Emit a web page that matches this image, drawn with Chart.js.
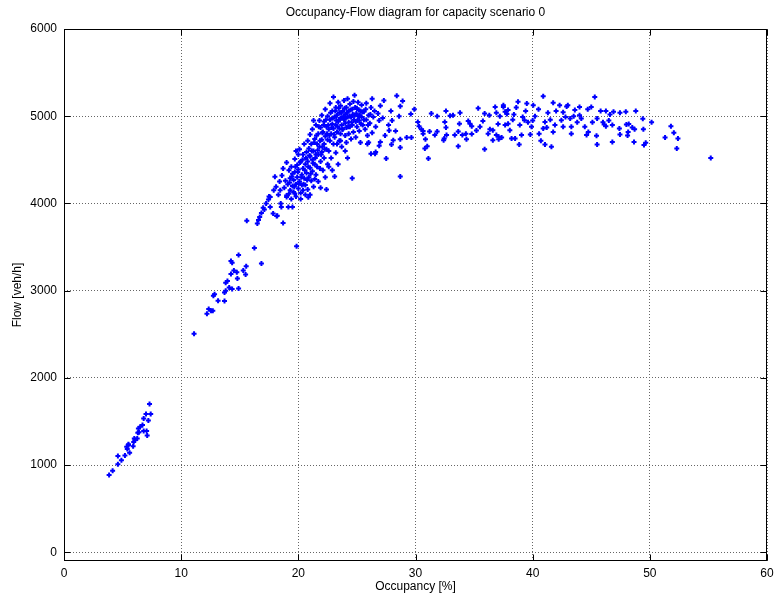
<!DOCTYPE html>
<html>
<head>
<meta charset="utf-8">
<style>
html, body { margin: 0; padding: 0; background: #fff; }
canvas { display: block; }
</style>
</head>
<body>
<canvas id="ofChart" width="781" height="597"></canvas>
<script src="https://cdn.jsdelivr.net/npm/chart.js"></script>
<script>
// axis ticks
const xTicks = [0, 10, 20, 30, 40, 50, 60];
const yTicks = [0, 1000, 2000, 3000, 4000, 5000, 6000];

// [occupancy %, flow veh/h]
const freeFlow = [
  [3.85,885],[4.15,935],[4.6,1010],[4.6,1105],[4.9,1055],[5.2,1110],[5.6,1140],[5.4,1185],
  [5.35,1210],[5.5,1240],[5.9,1215],[5.95,1265],[6.05,1285],[6.0,1305],[6.25,1305],[6.3,1370],
  [6.4,1375],[6.35,1420],[6.7,1460],[6.8,1390],[7.05,1390],[7.1,1340],[7.2,1510],[6.8,1535],
  [7.0,1585],[7.4,1585],[7.3,1700],[5.5,1230],[6.5,1440]
];

const ramp = [
  [11.1,2505],[12.2,2735],[12.35,2790],[12.55,2770],[12.7,2770],[12.75,2940],[12.85,2960],[13.15,2885],
  [13.7,2880],[13.7,2980],[13.8,3000],[14.1,3035],[14.35,3020],[14.9,3025],[13.8,3090],[13.95,3110],
  [14.8,3140],[14.25,3190],[14.75,3210],[14.5,3230],[15.5,3185],[15.3,3230],[15.55,3280],[14.25,3340],
  [14.35,3320],[14.9,3410],[16.85,3310],[16.25,3490],[19.85,3510],[15.6,3800],[16.5,3770],[16.6,3810],
  [16.7,3845],[16.85,3890],[17.1,3930],[17.0,3950],[17.25,4000],[17.45,4045],[17.6,4075],[17.85,3885],
  [18.15,3855],[18.7,3775],[18.1,4190],[18.0,4305],[18.45,4150],[17.6,3960],[18.55,3960],[19.15,3960],
  [19.5,3960],[19.0,4075],[19.7,4115],[20.85,4070],[17.9,4150],[18.2,3860],[18.3,4100],[18.4,4250],
  [18.5,4000],[17.5,4080]
];

const capacityCluster = [
  [18.6,4320],[18.8,4180],[18.9,4260],[19.0,4090],[19.1,4220],[19.2,4380],[19.3,4150],[19.3,4290],
  [19.4,4050],[19.4,4420],[19.5,4200],[19.5,4340],[18.7,4400],[19.0,4470],[19.2,4110],
  [19.6,4270],[19.6,4130],[19.7,4510],[19.7,4360],[19.8,4220],[19.8,4080],[19.9,4440],[19.9,4300],
  [20.0,4170],[20.0,4560],[20.0,4390],[20.1,4250],[20.1,4620],[20.2,4120],[20.2,4480],[20.3,4330],
  [20.3,4210],[20.4,4560],[20.4,4400],[20.5,4290],[20.5,4680],[19.8,4600],[20.2,4050],[20.4,4150],
  [20.6,4450],[20.6,4210],[20.7,4590],[20.7,4350],[20.8,4720],[20.8,4480],[20.8,4160],[20.9,4300],
  [20.9,4630],[21.0,4540],[21.0,4410],[21.0,4790],[21.1,4260],[21.1,4680],[21.2,4500],[21.2,4370],
  [21.2,4850],[21.3,4600],[21.3,4190],[21.4,4740],[21.4,4450],[21.5,4560],[21.5,4900],[21.5,4330],
  [21.0,4100],[21.3,4950],
  [21.6,4680],[21.6,4420],[21.7,4800],[21.7,4560],[21.7,4250],[21.8,4950],[21.8,4650],[21.9,4480],
  [21.9,4870],[22.0,4730],[22.0,4590],[22.0,5010],[22.1,4380],[22.1,4820],[22.2,4680],[22.2,4940],
  [22.2,4520],[22.3,4770],[22.3,5080],[22.3,4300],[22.4,4880],[22.4,4620],[22.5,4730],[22.5,5000],
  [22.5,4450],[21.9,4180],[22.4,4160],
  [22.6,4850],[22.6,4600],[22.7,4960],[22.7,4720],[22.7,5150],[22.8,4800],[22.8,4520],[22.9,4910],
  [22.9,5060],[23.0,4680],[23.0,4860],[23.0,5220],[23.1,4990],[23.1,4760],[23.2,4580],[23.2,4900],
  [23.2,5100],[23.3,4820],[23.3,5010],[23.3,4680],[23.4,4940],[23.4,5160],[23.5,4860],[23.5,4720],
  [23.5,5040],[22.9,4380],[23.4,4450],[23.1,4310],
  [23.6,4980],[23.6,4800],[23.6,5120],[23.7,4900],[23.7,4650],[23.8,5060],[23.8,4850],[23.9,4960],
  [23.9,5180],[24.0,4780],[24.0,5020],[24.0,4920],[24.1,5100],[24.1,4870],[24.1,4700],[24.2,4990],
  [24.2,5200],[24.3,4930],[24.3,4800],[24.3,5060],[24.4,4880],[24.4,5140],[24.5,4990],[24.5,4740],
  [24.2,4520],[24.6,4290],[24.0,4600],
  [24.6,5080],[24.6,4900],[24.7,5170],[24.7,4820],[24.8,5010],[24.8,5240],[24.9,4940],[24.9,4760],
  [25.0,5090],[25.0,4880],[25.1,5000],[25.1,5160],[25.2,4830],[25.2,4950],[25.3,5060],[25.3,4700],
  [25.4,4990],[25.4,5130],[25.5,4900],
  [25.6,5050],[25.7,4850],[25.8,4960],[25.8,5150],[25.9,4780],[26.0,5010],[26.1,4920],[26.2,5100],
  [26.2,4570],[26.3,4810],[26.4,4990],[26.5,5060],[26.6,4590],[26.6,4880],[26.8,5030],[26.9,4950],
  [27.0,4705],[27.0,5120],[26.3,5200],[25.9,4680],[26.0,4700],[26.9,4660],[26.55,4570],[27.95,4675],
  [27.2,4980],[27.4,4780],[27.5,4515],[27.7,4900],[27.75,4835],[27.9,5060],[28.1,4725],[28.3,4830],
  [28.4,5235],[28.7,4310],[28.6,5000],[28.7,5115],[28.7,4735],[28.9,5175],[29.25,4755],[29.6,5025],
  [29.65,4755],[29.9,5080],[28.0,4950],[27.3,5180],[28.7,4640]
];

// extra marks filling the densest part of the cloud
const clusterCore = [
  [19.25,4240],[19.45,4310],[19.65,4190],[19.75,4420],[19.95,4360],[20.05,4230],[20.15,4470],[20.25,4300],
  [20.35,4500],[20.45,4220],[20.55,4380],[20.65,4520],[20.75,4270],[20.85,4420],[20.95,4550],[21.05,4340],
  [21.15,4600],[21.25,4460],[21.35,4700],[21.45,4520],[21.55,4780],[21.65,4610],[21.75,4880],[21.85,4720],
  [21.95,4560],[22.05,4810],[22.15,4900],[22.25,4620],[22.35,4960],[22.45,4800],[22.55,4900],[22.65,4780],
  [22.75,5040],[22.85,4870],[22.95,4980],[23.05,4790],[23.15,5060],[23.25,4950],[23.35,4880],[23.45,5090],
  [23.55,4960],[23.65,5040],[23.75,4850],[23.85,5000],[23.95,5090],[24.05,4980],[24.15,5040],[24.25,4880],
  [24.35,5000],[24.45,5070],[24.55,4930],[24.65,5020],[24.75,4960],[24.85,5100],[24.95,5030],[25.05,4950],
  [25.15,5070],[25.25,5010],[25.35,4910],[25.45,5050],[25.6,4960],[25.75,5080],[25.95,4900],[26.15,5020],
  [21.85,4400],[22.6,4420],[23.6,4720],[20.6,4100],[21.4,4280],[22.05,4650]
];

const congested = [
  [30.2,4935],[30.3,4885],[30.5,4850],[30.65,4800],[31.2,4825],[30.85,4735],[31.0,4655],[31.1,4515],
  [30.65,4830],[30.8,4630],[31.65,4785],[32.45,4745],
  [31.35,5030],[31.85,5000],[32.6,5060],[32.95,5005],[33.2,5010],[33.8,5040],[34.5,4945],[34.65,4915],
  [34.8,4885],[32.5,4935],[31.85,4825],[32.6,4870],[32.65,4785],[32.4,4725],[33.35,4785],[33.65,4825],
  [33.75,4915],[34.0,4785],[34.3,4800],[34.35,4735],[33.65,4655],[34.8,4795],[35.2,4835],[35.5,4880],
  [35.35,5090],[35.9,5030],[35.75,4945],[36.3,5010],[36.35,4850],[36.8,5105],[36.9,5040],[37.2,5000],
  [37.05,4910],[37.5,5105],[37.65,5050],[37.8,5025],[37.9,4915],[36.2,4800],[36.9,4785],[37.1,4735],
  [35.9,4620],[36.6,4725],[36.6,4840],[37.1,4765],
  [37.5,5125],[37.9,5070],[38.75,5165],[39.5,5145],[40.05,5125],[40.9,5230],[41.75,5155],[42.3,5125],
  [43.0,5125],[44.0,5105],[45.0,5105],[45.3,5220],[42.6,5045],[43.2,4975],[44.15,4975],[45.5,4975],
  [44.0,5010],[43.3,4880],[43.3,4800],[42.6,4880],[42.45,4955],[41.9,4900],[41.75,4820],[41.6,4650],
  [41.05,4675],[40.9,4860],[41.05,4935],[40.55,4800],[39.9,4880],[39.6,4930],[39.3,4955],[39.15,4990],
  [38.9,4900],[39.05,4785],[38.85,4675],[38.5,4745],[38.2,4745],[38.05,4840],[37.65,4900],[37.35,4755],
  [45.45,4775],[45.5,4675],[44.75,4820],[44.45,4880],[44.6,4785],
  [40.2,5000],[40.5,5080],[41.3,5040],[41.5,4960],[42.0,5060],[42.8,4990],[43.6,5070],[43.8,4930],
  [40.0,4950],[39.4,5060],[38.4,5020],[38.3,4960],[42.9,5110],[43.5,5000],[41.2,4870],[39.8,4790],
  [40.7,4720],[44.7,5080],[45.1,4930],[46.6,5020],[38.6,5100]
];

const overload = [
  [45.8,5060],[46.25,5060],[46.9,5050],[47.45,5040],[47.95,5050],[48.8,5060],[49.4,4970],[50.15,4930],
  [46.0,4930],[46.1,4905],[46.25,4885],[46.5,4950],[46.8,4900],[47.4,4860],[48.0,4905],[48.2,4910],
  [48.5,4870],[48.7,4850],[48.15,4820],[47.45,4790],[49.45,4850],[48.1,4780],[46.8,4705],[48.65,4705],
  [49.5,4670],[49.65,4695],[51.3,4755],[51.8,4885],[52.05,4810],[52.4,4745],[52.3,4630],[55.2,4520]
];

const allPoints = [...freeFlow, ...ramp, ...capacityCluster, ...clusterCore, ...congested, ...overload]
  .map(p => ({ x: p[0], y: p[1] }));

const chartTitle = 'Occupancy-Flow diagram for capacity scenario 0';
const fontFamily = '"Liberation Sans", Arial, sans-serif';

// matlab style box, inward ticks and title over the plot area
const framePlugin = {
  id: 'frame',
  afterDraw(chart) {
    const { ctx, chartArea: a, scales } = chart;
    const l = Math.round(a.left) + 0.5, r = Math.round(a.right) - 0.5;
    const t = Math.round(a.top) + 0.5, b = Math.round(a.bottom) - 0.5;
    ctx.save();
    ctx.strokeStyle = '#000';
    ctx.lineWidth = 1;
    ctx.setLineDash([]);
    ctx.strokeRect(l, t, r - l, b - t);
    ctx.beginPath();
    xTicks.forEach(v => {
      const px = Math.round(scales.x.getPixelForValue(v)) + 0.5;
      ctx.moveTo(px, b); ctx.lineTo(px, b - 6);
      ctx.moveTo(px, t); ctx.lineTo(px, t + 6);
    });
    yTicks.forEach(v => {
      const py = Math.round(scales.y.getPixelForValue(v)) + 0.5;
      ctx.moveTo(l, py); ctx.lineTo(l + 6, py);
      ctx.moveTo(r, py); ctx.lineTo(r - 6, py);
    });
    ctx.stroke();
    ctx.fillStyle = '#000';
    ctx.font = '12px ' + fontFamily;
    ctx.textAlign = 'center';
    ctx.textBaseline = 'middle';
    ctx.fillText(chartTitle, (a.left + a.right) / 2, 13);
    ctx.restore();
  }
};

new Chart(document.getElementById('ofChart'), {
  type: 'scatter',
  data: {
    datasets: [{
      label: 'measurements',
      data: allPoints,
      pointStyle: 'cross',
      radius: 2.5,
      borderWidth: 2,
      borderColor: '#0000ff',
      backgroundColor: '#0000ff'
    }]
  },
  options: {
    responsive: false,
    animation: false,
    layout: { padding: { top: 29, right: 14, bottom: 0, left: 0 } },
    plugins: {
      legend: { display: false },
      tooltip: { enabled: false },
      title: { display: false }
    },
    scales: {
      x: {
        type: 'linear',
        min: 0,
        max: 60,
        afterBuildTicks: s => { s.ticks = xTicks.map(v => ({ value: v })); },
        afterFit: s => { s.height = 36; },
        grid: { color: '#666', lineWidth: 1, drawTicks: false },
        border: { display: false, dash: [1, 2] },
        ticks: { color: '#000', font: { family: fontFamily, size: 12 }, padding: 5, maxRotation: 0, callback: v => String(v) },
        title: { display: true, text: 'Occupancy [%]', color: '#000', font: { family: fontFamily, size: 12 }, padding: { top: 0, bottom: 3 } }
      },
      y: {
        type: 'linear',
        min: -100,
        max: 6000,
        afterBuildTicks: s => { s.ticks = yTicks.map(v => ({ value: v })); },
        afterFit: s => { s.width = 64; },
        grid: { color: '#666', lineWidth: 1, drawTicks: false },
        border: { display: false, dash: [1, 2] },
        ticks: { color: '#000', font: { family: fontFamily, size: 12 }, padding: 7, callback: v => String(v) },
        title: { display: true, text: 'Flow [veh/h]', color: '#000', font: { family: fontFamily, size: 12 }, padding: { top: 10, bottom: 0 } }
      }
    }
  },
  plugins: [framePlugin]
});
</script>
</body>
</html>
